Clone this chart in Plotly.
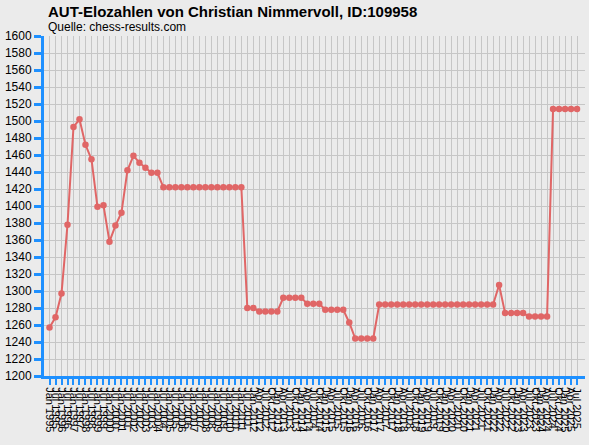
import plotly.graph_objects as go

# Elo-Verlauf
dates = [
    "Jan 1995", "Jul 1995", "Jan 1996", "Jul 1996", "Jan 1997", "Jul 1997",
    "Jan 1998", "Jul 1998", "Jan 1999", "Jul 1999", "Jan 2000", "Jul 2000",
    "Jan 2001", "Jul 2001", "Jan 2002", "Jul 2002", "Jan 2003", "Jul 2003",
    "Jan 2004", "Jul 2004", "Jan 2005", "Jul 2005", "Jan 2006", "Jul 2006",
    "Jan 2007", "Jul 2007", "Jan 2008", "Jul 2008", "Jan 2009", "Jul 2009",
    "Jan 2010", "Jul 2010", "Jan 2011", "Jul 2011",
    "Jan 2012", "Apr 2012", "Jul 2012", "Okt 2012", "Jan 2013", "Apr 2013",
    "Jul 2013", "Okt 2013", "Jan 2014", "Apr 2014", "Jul 2014", "Okt 2014",
    "Jan 2015", "Apr 2015", "Jul 2015", "Okt 2015", "Jan 2016", "Apr 2016",
    "Jul 2016", "Okt 2016", "Jan 2017", "Apr 2017", "Jul 2017", "Okt 2017",
    "Jan 2018", "Apr 2018", "Jul 2018", "Okt 2018", "Jan 2019", "Apr 2019",
    "Jul 2019", "Okt 2019", "Jan 2020", "Apr 2020", "Jul 2020", "Okt 2020",
    "Jan 2021", "Apr 2021", "Jul 2021", "Okt 2021", "Jan 2022", "Apr 2022",
    "Jul 2022", "Okt 2022", "Jan 2023", "Apr 2023", "Jul 2023", "Okt 2023",
    "Jan 2024", "Apr 2024", "Jul 2024", "Okt 2024", "Jan 2025", "Apr 2025",
    "Jul 2025",
]
elo = [
    1257, 1269, 1297, 1378, 1493, 1502, 1472, 1455, 1399, 1401,
    1358, 1377, 1392, 1442, 1459, 1451, 1445, 1439, 1439, 1422,
    1422, 1422, 1422, 1422, 1422, 1422, 1422, 1422, 1422, 1422,
    1422, 1422, 1422, 1280, 1280, 1276, 1276, 1276, 1276, 1292,
    1292, 1292, 1292, 1285, 1285, 1285, 1278, 1278, 1278, 1278,
    1263, 1244, 1244, 1244, 1244, 1284, 1284, 1284, 1284, 1284,
    1284, 1284, 1284, 1284, 1284, 1284, 1284, 1284, 1284, 1284,
    1284, 1284, 1284, 1284, 1284, 1307, 1274, 1274, 1274, 1274,
    1270, 1270, 1270, 1270, 1514, 1514, 1514, 1514, 1514,
]
ytick_vals = list(range(1200, 1601, 20))

BG = "#ebebeb"
BLUE = "#1e90ff"
GRID = "#c6c6c6"
RED = "#e06666"

idx = list(range(len(dates)))

fig = go.Figure()
fig.add_trace(go.Scatter(
    x=idx, y=elo, mode="lines+markers",
    line=dict(color=RED, width=2),
    marker=dict(color=RED, size=6.5),
    hoverinfo="text", text=[f"{d}: {v}" for d, v in zip(dates, elo)],
))

fig.update_layout(
    width=589, height=445,
    margin=dict(l=43.5, r=4, t=35.5, b=69),
    paper_bgcolor=BG, plot_bgcolor=BG,
    showlegend=False,
    font=dict(family="Liberation Sans, Arial, sans-serif", color="black"),
)

fig.update_xaxes(
    range=[-0.92, 89.33],
    tickmode="array", tickvals=idx, ticktext=dates,
    tickangle=90, tickfont=dict(size=11),
    showgrid=True, gridcolor=GRID, gridwidth=1,
    showline=True, linecolor=BLUE, linewidth=3,
    ticks="outside", ticklen=6, tickwidth=2, tickcolor=BLUE,
    zeroline=False, automargin=False,
)
fig.update_yaxes(
    range=[1200, 1600],
    tickmode="array", tickvals=ytick_vals,
    tickfont=dict(size=12),
    showgrid=True, gridcolor=GRID, gridwidth=1,
    showline=True, linecolor=BLUE, linewidth=3,
    ticks="outside", ticklen=7, tickwidth=3, tickcolor=BLUE,
    zeroline=False, automargin=False,
)

fig.add_annotation(
    text="<b>AUT-Elozahlen von Christian Nimmervoll, ID:109958</b>",
    xref="paper", yref="paper", x=0.004, y=1.072,
    xanchor="left", yanchor="middle", showarrow=False,
    font=dict(size=15, color="black"),
)
fig.add_annotation(
    text="Quelle: chess-results.com",
    xref="paper", yref="paper", x=0.004, y=1.027,
    xanchor="left", yanchor="middle", showarrow=False,
    font=dict(size=12, color="black"),
)

# Seitenrand entfernen, damit die Grafik bei 0,0 beginnt
fig.write_html("out.html", config={"displayModeBar": False},
               post_script="document.body.style.margin='0';")
